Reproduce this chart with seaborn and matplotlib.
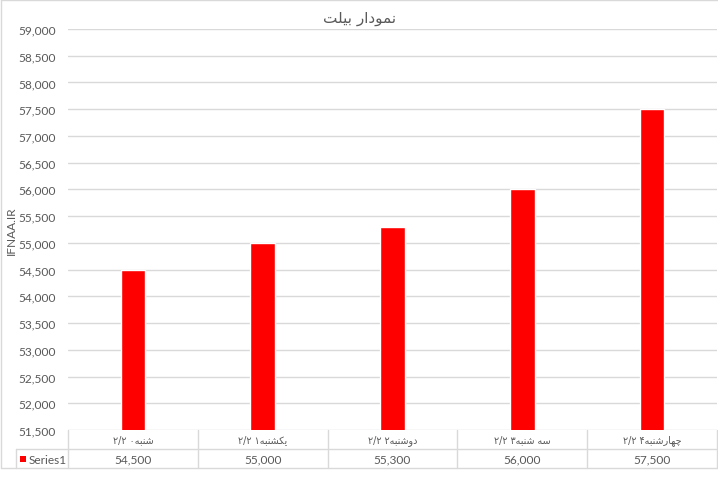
import numpy as np
import pandas as pd
import matplotlib
matplotlib.use("Agg")
import matplotlib.pyplot as plt
import matplotlib.transforms as mtransforms
from matplotlib.lines import Line2D
from matplotlib.patches import Rectangle
import seaborn as sns

# ---------------- data ----------------
title = "نمودار بیلت"
y_label = "IFNAA.IR"
days = ["شنبه", "یکشنبه", "دوشنبه", "سه شنبه", "چهارشنبه"]
dates = ["۲/۲۰", "۲/۲۱", "۲/۲۲", "۲/۲۳", "۲/۲۴"]
values = [54500, 55000, 55300, 56000, 57500]
series_name = "Series1"
y_min, y_max, y_step = 51500, 59000, 500

# ---------------- simple Persian shaping ----------------
FORMS = {
    "ا": ("\uFE8D", "\uFE8E", None, None),
    "ب": ("\uFE8F", "\uFE90", "\uFE91", "\uFE92"),
    "ت": ("\uFE95", "\uFE96", "\uFE97", "\uFE98"),
    "د": ("\uFEA9", "\uFEAA", None, None),
    "ر": ("\uFEAD", "\uFEAE", None, None),
    "س": ("\uFEB1", "\uFEB2", "\uFEB3", "\uFEB4"),
    "ش": ("\uFEB5", "\uFEB6", "\uFEB7", "\uFEB8"),
    "ل": ("\uFEDD", "\uFEDE", "\uFEDF", "\uFEE0"),
    "م": ("\uFEE1", "\uFEE2", "\uFEE3", "\uFEE4"),
    "ن": ("\uFEE5", "\uFEE6", "\uFEE7", "\uFEE8"),
    "ه": ("\uFEE9", "\uFEEA", "\uFEEB", "\uFEEC"),
    "و": ("\uFEED", "\uFEEE", None, None),
    "ی": ("\uFBFC", "\uFBFD", "\uFBFE", "\uFBFF"),
    "ک": ("\uFB8E", "\uFB8F", "\uFB90", "\uFB91"),
    "چ": ("\uFB7A", "\uFB7B", "\uFB7C", "\uFB7D"),
}


def shape(word):
    chars = list(word)
    out = []
    for i, c in enumerate(chars):
        if c not in FORMS:
            out.append(c)
            continue
        iso, fin, ini, med = FORMS[c]
        prev = chars[i - 1] if i > 0 else None
        nxt = chars[i + 1] if i + 1 < len(chars) else None
        jp = prev in FORMS and FORMS[prev][2] is not None
        jn = ini is not None and nxt in FORMS
        if jp and jn:
            out.append(med)
        elif jp:
            out.append(fin)
        elif jn:
            out.append(ini)
        else:
            out.append(iso)
    return "".join(reversed(out))


labels = [t[:-1] + " " + t[-1] + shape(d) for d, t in zip(days, dates)]
df = pd.DataFrame({"cat": labels, "value": values})

# ---------------- figure ----------------
W, H = 718, 481
TXT = "#595959"
GRID = "#D9D9D9"
FONT = ["Lato", "DejaVu Sans"]
AR_FONT = ["DejaVu Sans"]

sns.set_theme(style="white")
plt.rcParams["font.family"] = FONT

fig = plt.figure(figsize=(W / 100, H / 100), dpi=100)
fig.patch.set_facecolor("white")

def fy(y):
    return 1 - y / H

ax = fig.add_axes([68 / W, fy(431), (717 - 68) / W, (431 - 30) / H])
sns.barplot(data=df, x="cat", y="value", color="#FF0000", saturation=1,
            width=0.19, ax=ax)
ax.set_ylim(y_min, y_max)
ax.set_xlim(-0.5, len(values) - 0.5)
ax.set_yticks(np.arange(y_min, y_max + 1, y_step))
ax.set_yticklabels([f"{v:,}" for v in np.arange(y_min, y_max + 1, y_step)],
                   fontsize=8.6, color=TXT)
ax.set_xticks([])
ax.set_xlabel("")
ax.set_ylabel("")
ax.tick_params(axis="y", length=0, pad=9)
ax.yaxis.grid(True, color=GRID, lw=1)
ax.set_axisbelow(True)
for s in ax.spines.values():
    s.set_visible(False)

# y label
fig.text(11 / W, fy(231), y_label, rotation=90, ha="center", va="center",
         fontsize=8.6, color=TXT)

# title
fig.text(360 / W, fy(19), shape(title), ha="center", va="center",
         fontsize=11, color=TXT, family=AR_FONT)

# ---------------- data table ----------------
bt = mtransforms.blended_transform_factory(ax.transData, fig.transFigure)
n = len(values)
lw = 1
for i in range(n + 1):
    fig.add_artist(Line2D([i - 0.5, i - 0.5], [fy(431), fy(469)],
                          transform=bt, color=GRID, lw=lw))
fig.add_artist(Line2D([16 / W, 717 / W], [fy(450), fy(450)],
                      transform=fig.transFigure, color=GRID, lw=lw))
fig.add_artist(Line2D([1 / W, 717 / W], [fy(469), fy(469)],
                      transform=fig.transFigure, color=GRID, lw=lw))
fig.add_artist(Line2D([16 / W, 16 / W], [fy(450), fy(469)],
                      transform=fig.transFigure, color=GRID, lw=lw))
fig.add_artist(Line2D([1 / W, 1 / W], [fy(0.5), fy(469)],
                      transform=fig.transFigure, color=GRID, lw=lw))
fig.add_artist(Line2D([1 / W, 717 / W], [fy(0.5), fy(0.5)],
                      transform=fig.transFigure, color=GRID, lw=lw))

for i, (lab, v) in enumerate(zip(labels, values)):
    fig.text(i, fy(440.5), lab, transform=bt, ha="center", va="center",
             fontsize=6.9, color=TXT, family=AR_FONT)
    fig.text(i, fy(460), f"{v:,}", transform=bt, ha="center", va="center",
             fontsize=8.6, color=TXT)

# legend key
fig.add_artist(Rectangle((20 / W, fy(463)), 6 / W, 6 / H,
                         transform=fig.transFigure, color="#FF0000", lw=0))
fig.text(29 / W, fy(460), series_name, ha="left", va="center",
         fontsize=8.6, color=TXT)

fig.savefig("out.png", dpi=100, facecolor="white")
